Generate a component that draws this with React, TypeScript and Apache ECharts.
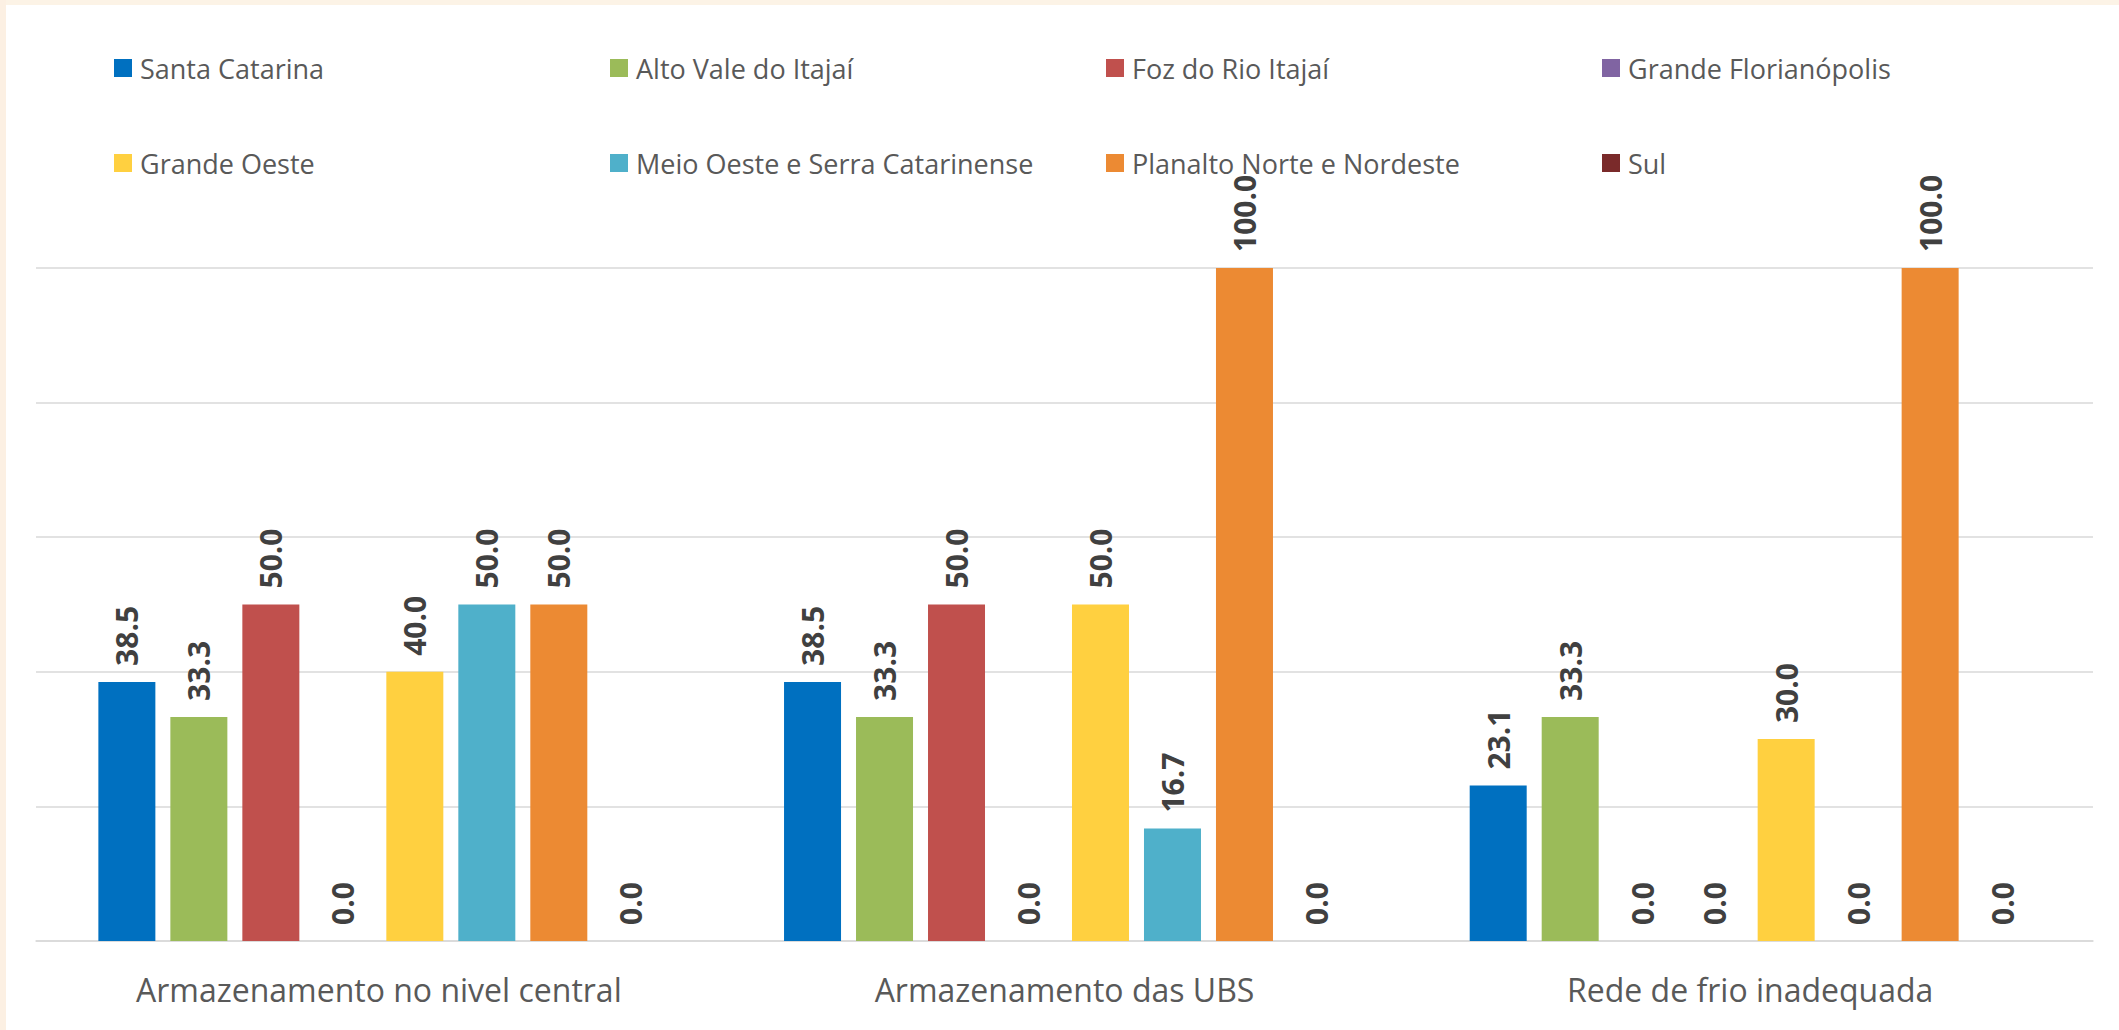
import React, { useEffect, useRef } from "react";
import * as echarts from "echarts";

const categories = [
  "Armazenamento no nivel central",
  "Armazenamento das UBS",
  "Rede de frio inadequada",
];

const seriesNames = [
  "Santa Catarina",
  "Alto Vale do Itajaí",
  "Foz do Rio Itajaí",
  "Grande Florianópolis",
  "Grande Oeste",
  "Meio Oeste e Serra Catarinense",
  "Planalto Norte e Nordeste",
  "Sul",
];

const santaCatarina = [38.5, 38.5, 23.1];
const altoVale = [33.3, 33.3, 33.3];
const fozRioItajai = [50.0, 50.0, 0.0];
const grandeFlorianopolis = [0.0, 0.0, 0.0];
const grandeOeste = [40.0, 50.0, 30.0];
const meioOeste = [50.0, 16.7, 0.0];
const planaltoNorte = [50.0, 100.0, 100.0];
const sul = [0.0, 0.0, 0.0];

const seriesValues = [
  santaCatarina,
  altoVale,
  fozRioItajai,
  grandeFlorianopolis,
  grandeOeste,
  meioOeste,
  planaltoNorte,
  sul,
];

const colors = [
  "#0070C0",
  "#9BBB59",
  "#C0504D",
  "#8064A2",
  "#FFD040",
  "#4FB0CA",
  "#EC8A33",
  "#7A2A2A",
];

const FONT = "'Open Sans', 'Noto Sans', sans-serif";

export default function App() {
  const ref = useRef<HTMLDivElement>(null);

  useEffect(() => {
    if (!ref.current) return;
    const chart = echarts.init(ref.current, undefined, { renderer: "svg" });

    const legends = seriesNames.map((name, i) => ({
      show: true,
      data: [name],
      left: 114 + (i % 4) * 496,
      top: 53 + Math.floor(i / 4) * 95,
      padding: 0,
      itemWidth: 18,
      itemHeight: 18,
      itemGap: 0,
      icon: "rect",
      selectedMode: false,
      textStyle: {
        fontFamily: FONT,
        fontSize: 27,
        color: "#595959",
        lineHeight: 30,
        padding: [0, 0, 0, 3],
      },
    }));

    const series = seriesNames.map((name, i) => ({
      name,
      type: "bar",
      data: seriesValues[i],
      barWidth: 57,
      barGap: "26.3%",
      itemStyle: { color: colors[i] },
      label: {
        show: true,
        position: "top",
        rotate: 90,
        align: "left",
        verticalAlign: "middle",
        distance: 16,
        formatter: (p: any) => Number(p.value).toFixed(1),
        fontFamily: FONT,
        fontWeight: "bold",
        fontSize: 30,
        color: "#404040",
      },
    }));

    chart.setOption({
      animation: false,
      backgroundColor: "#FFFFFF",
      graphic: [
        {
          type: "rect",
          shape: { x: 0, y: 0, width: 2119, height: 5 },
          style: { fill: "#FCF3E6" },
          silent: true,
        },
        {
          type: "rect",
          shape: { x: 0, y: 0, width: 6, height: 1030 },
          style: { fill: "#FCF0E3" },
          silent: true,
        },
      ],
      legend: legends,
      grid: { left: 36, right: 26, top: 268, bottom: 89, containLabel: false },
      xAxis: {
        type: "category",
        data: categories,
        axisLine: { show: true, lineStyle: { color: "#D9D9D9", width: 1.5 } },
        axisTick: { show: false },
        axisLabel: {
          fontFamily: FONT,
          fontSize: 32,
          color: "#595959",
          margin: 32,
        },
      },
      yAxis: {
        type: "value",
        min: 0,
        max: 100,
        interval: 20,
        axisLabel: { show: false },
        axisLine: { show: false },
        axisTick: { show: false },
        splitLine: { lineStyle: { color: "#D9D9D9", width: 1.5 } },
      },
      series,
    });

    return () => chart.dispose();
  }, []);

  return (
    <div
      ref={ref}
      style={{
        position: "fixed",
        left: 0,
        top: 0,
        width: 2119,
        height: 1030,
        background: "#FFFFFF",
      }}
    />
  );
}
